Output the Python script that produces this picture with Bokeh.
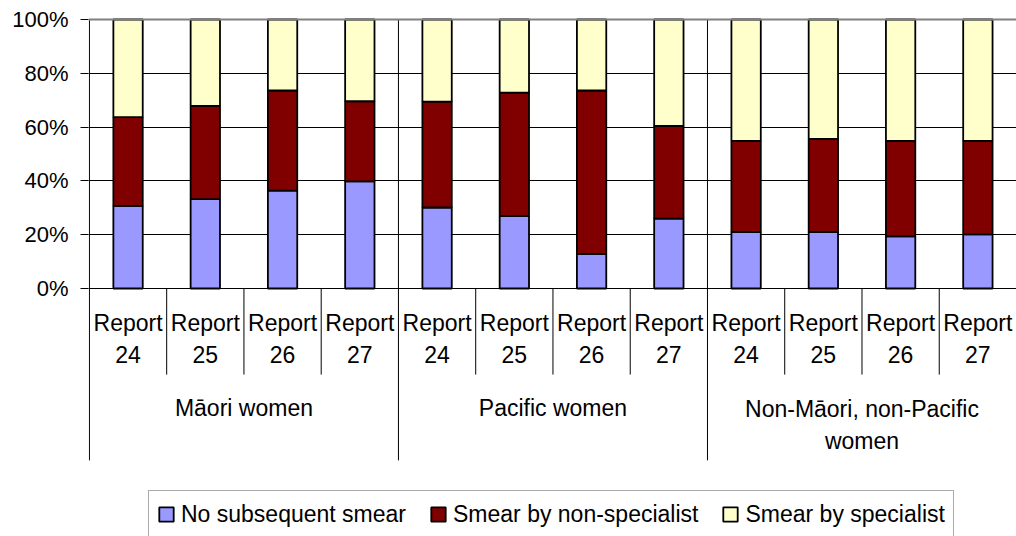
from bokeh.plotting import figure
from bokeh.models import (Range1d, FixedTicker, PrintfTickFormatter, ColumnDataSource,
                          Legend, LegendItem, Span)
from bokeh.core.properties import value
from bokeh.embed import file_html
from bokeh.resources import INLINE

# ---- data ----
groups = ["Māori women", "Pacific women", "Non-Māori, non-Pacific\nwomen"]
reports = ["Report\n24", "Report\n25", "Report\n26", "Report\n27"]
series_names = ["No subsequent smear", "Smear by non-specialist", "Smear by specialist"]
no_smear = [30.7, 33.2, 36.4, 39.8, 30.1, 26.9, 12.9, 26.0, 21.0, 21.0, 19.4, 20.1]
non_specialist = [33.0, 34.7, 37.2, 29.8, 39.4, 45.9, 60.7, 34.4, 33.9, 34.6, 35.5, 34.8]
specialist = [36.3, 32.1, 26.4, 30.4, 30.5, 27.2, 26.4, 39.6, 45.1, 44.4, 45.1, 45.1]
y_ticks = [0, 20, 40, 60, 80, 100]

colors = ["#9999FF", "#800000", "#FFFFCC"]
FONT = "Liberation Sans"

n_rep = len(reports)
n = len(groups) * n_rep
xs = [i + 0.5 for i in range(n)]
src = ColumnDataSource(dict(x=xs, s0=no_smear, s1=non_specialist, s2=specialist))

p = figure(width=1016, height=536, x_range=Range1d(-0.012, 12.0),
           y_range=Range1d(-92.2, 100.74), output_backend="svg",
           toolbar_location=None, x_axis_location=None,
           min_border_left=88, min_border_right=0, min_border_top=17, min_border_bottom=0)
p.outline_line_color = None
p.xgrid.visible = False
p.ygrid.ticker = FixedTicker(ticks=y_ticks[:-1])
p.ygrid.grid_line_color = "black"
p.ygrid.grid_line_width = 1

ax = p.yaxis[0]
ax.ticker = FixedTicker(ticks=y_ticks)
ax.formatter = PrintfTickFormatter(format="%d%%")
ax.axis_line_color = None
ax.major_tick_out = 8
ax.major_tick_in = 0
ax.minor_tick_line_color = None
ax.major_tick_line_color = "black"
ax.major_label_standoff = 12
ax.major_label_text_font = FONT
ax.major_label_text_font_size = "22px"
ax.major_label_text_color = "black"

p.add_layout(Span(location=100, dimension="width", line_color="#808080", line_width=2))

rs = p.vbar_stack(["s0", "s1", "s2"], x="x", width=0.38, color=colors,
                  line_color="black", line_width=1.8, source=src)

# group boundaries (full height) and category separators (below axis)
gb = [g * n_rep for g in range(len(groups))]
p.segment(x0=gb, y0=[-63.9] * len(gb), x1=gb, y1=[100] * len(gb),
          line_color="black", line_width=1)
cs = [i for i in range(1, n) if i % n_rep != 0]
p.segment(x0=cs, y0=[-32] * len(cs), x1=cs, y1=[0] * len(cs),
          line_color="black", line_width=1)

# category labels
p.text(x=xs, y=[-18.8] * n, text=reports * len(groups), text_font=value(FONT),
       text_font_size=value("23px"), text_align="center", text_baseline="middle",
       text_line_height=1.25, text_color="black")

# group labels
gx = [g * n_rep + n_rep / 2 for g in range(len(groups))]
gy = [-44.6 - 6.1 * g.count("\n") for g in groups]
p.text(x=gx, y=gy, text=groups, text_font=value(FONT),
       text_font_size=value("23px"), text_align="center", text_baseline="middle",
       text_line_height=1.25, text_color="black")

legend = Legend(items=[LegendItem(label=nm, renderers=[r]) for nm, r in zip(series_names, rs)],
                location=(60, -2), orientation="horizontal", margin=0, padding=8,
                spacing=23, label_standoff=6, glyph_width=18, glyph_height=18,
                label_height=30, label_text_font=FONT, label_text_font_size="23px",
                label_text_color="black", border_line_color="#555555", border_line_width=1,
                background_fill_color="white", background_fill_alpha=1)
p.add_layout(legend)

open("out.html", "w").write(file_html(p, INLINE))
